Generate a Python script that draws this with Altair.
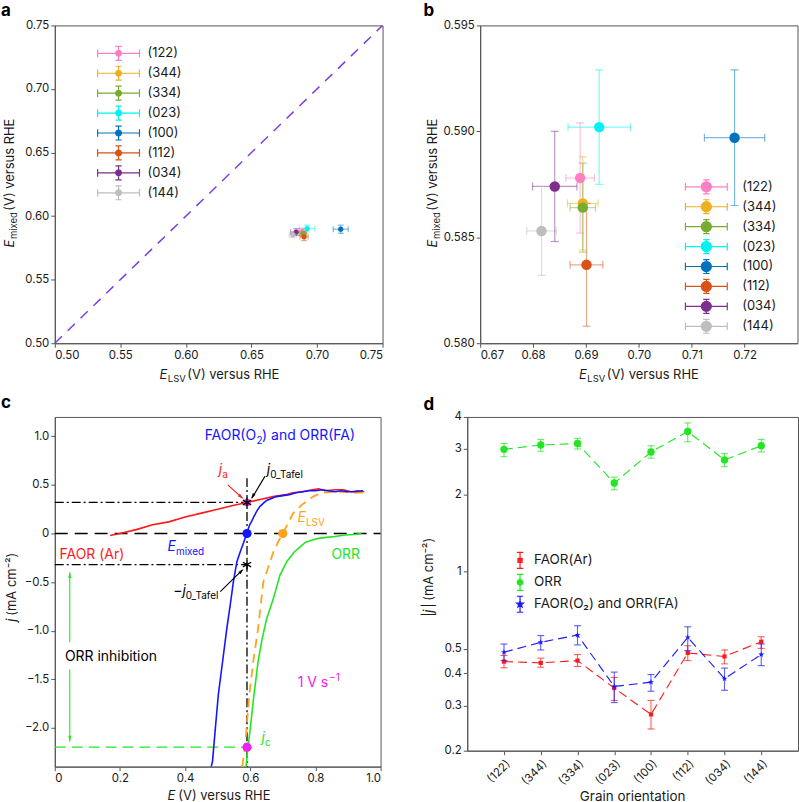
import altair as alt
import pandas as pd

FONT = "Inter"
AXC = "#555555"
INK = "#1a1a1a"

# ---------------- panels a & b : data ----------------
grains = ["(122)", "(344)", "(334)", "(023)", "(100)", "(112)", "(034)", "(144)"]
grain_colors = ["#FF7FC4", "#EDB120", "#77AC30", "#00F2F2", "#0072BD", "#D95319", "#7E2F8E", "#BEBEBE"]
e_lsv = [0.6889, 0.6894, 0.6894, 0.6925, 0.7181, 0.6901, 0.6841, 0.6816]
e_lsv_err = [0.0027, 0.0029, 0.0024, 0.0059, 0.0057, 0.0031, 0.0042, 0.0028]
e_mixed = [0.5878, 0.5866, 0.5864, 0.5902, 0.5897, 0.5837, 0.5874, 0.5853]
e_mixed_err = [0.0026, 0.0022, 0.0021, 0.0027, 0.0032, 0.0029, 0.0026, 0.0021]
diag = [0.50, 0.75]

# ---------------- panel c : data ----------------
faor_ar_E = [0.17, 0.20, 0.25, 0.30, 0.35, 0.40, 0.45, 0.50, 0.55, 0.59, 0.63, 0.67, 0.71, 0.73,
             0.76, 0.79, 0.81, 0.83, 0.86, 0.885, 0.91, 0.93, 0.95]
faor_ar_j = [-0.02, 0.00, 0.04, 0.09, 0.12, 0.17, 0.21, 0.25, 0.29, 0.32, 0.35, 0.38, 0.40, 0.42,
             0.43, 0.45, 0.46, 0.44, 0.45, 0.45, 0.43, 0.44, 0.43]
mixed_E = [0.480, 0.484, 0.493, 0.502, 0.515, 0.528, 0.540, 0.548, 0.559, 0.569, 0.580, 0.589,
           0.597, 0.605, 0.612, 0.620, 0.630, 0.640, 0.650, 0.665, 0.680, 0.700, 0.720, 0.740,
           0.760, 0.780, 0.800, 0.820, 0.840, 0.860, 0.880, 0.900, 0.920, 0.946]
mixed_j = [-2.40, -2.35, -2.00, -1.66, -1.32, -0.98, -0.70, -0.50, -0.29, -0.19, -0.09, 0.00,
           0.08, 0.13, 0.18, 0.23, 0.28, 0.31, 0.34, 0.36, 0.38, 0.39, 0.40, 0.42,
           0.43, 0.44, 0.44, 0.45, 0.44, 0.43, 0.44, 0.43, 0.43, 0.44]
lsv_E = [0.575, 0.584, 0.597, 0.610, 0.624, 0.640, 0.655, 0.671, 0.685, 0.700, 0.715, 0.732,
         0.760, 0.793, 0.820, 0.850, 0.880, 0.910, 0.950]
lsv_j = [-2.40, -2.20, -1.66, -1.30, -0.98, -0.50, -0.35, -0.19, -0.09, 0.00, 0.10, 0.21,
         0.30, 0.38, 0.42, 0.43, 0.43, 0.42, 0.42]
orr_E = [0.587, 0.593, 0.600, 0.610, 0.624, 0.635, 0.650, 0.671, 0.691, 0.712, 0.735, 0.752,
         0.770, 0.793, 0.810, 0.834, 0.860, 0.890, 0.920, 0.941]
orr_j = [-2.40, -2.20, -2.01, -1.70, -1.32, -1.11, -0.88, -0.67, -0.43, -0.29, -0.19, -0.14,
         -0.09, -0.065, -0.05, -0.04, -0.03, -0.015, -0.01, 0.00]
ja_level = 0.32
e_mixed_c = 0.59
e_lsv_c = 0.70
jc_level = -2.2
vline_top = 0.57
inhib_x = 0.046
inhib_top = -0.40
inhib_gap = [-1.12, -1.40]
inhib_bottom = -2.14

# ---------------- panel d : data ----------------
series_names = ["FAOR(Ar)", "ORR", "FAOR(O\u2082) and ORR(FA)"]
series_colors = ["#FF1A1A", "#22E622", "#1A1AFF"]
faor_ar_d = [0.445, 0.440, 0.449, 0.351, 0.277, 0.481, 0.466, 0.532]
faor_ar_lo = [0.421, 0.423, 0.426, 0.314, 0.243, 0.449, 0.436, 0.501]
faor_ar_hi = [0.470, 0.459, 0.474, 0.386, 0.314, 0.513, 0.494, 0.556]
orr_d = [2.99, 3.11, 3.15, 2.21, 2.92, 3.51, 2.72, 3.09]
orr_lo = [2.80, 2.94, 3.00, 2.08, 2.76, 3.20, 2.56, 2.92]
orr_hi = [3.15, 3.27, 3.30, 2.33, 3.09, 3.79, 2.88, 3.27]
mix_d = [0.484, 0.529, 0.565, 0.356, 0.370, 0.553, 0.382, 0.474]
mix_lo = [0.449, 0.494, 0.517, 0.308, 0.341, 0.491, 0.344, 0.429]
mix_hi = [0.521, 0.562, 0.614, 0.405, 0.396, 0.608, 0.420, 0.521]


# ---------------- helpers ----------------
def rings(radii):
    return "".join(f"M{r},0A{r},{r} 0 1,1 {-r},0A{r},{r} 0 1,1 {r},0" for r in radii)


def axis(values, expr=None, fmt=None, **kw):
    a = dict(values=values, title=None, grid=False, tickSize=4, tickWidth=1, tickColor=AXC,
             domainColor=AXC, domainWidth=1, labelFont=FONT, labelFontSize=11.5,
             labelColor=INK, labelPadding=2)
    if expr:
        a["labelExpr"] = expr
    if fmt:
        a["format"] = fmt
    a.update(kw)
    return alt.Axis(**a)


def vtext(text, x, y, size=13, color=INK, italic=False, bold=False, align="left",
          baseline="alphabetic", angle=None, dx=None, dy=None):
    p = dict(font=FONT, fontSize=size, color=color, align=align, baseline=baseline)
    if italic:
        p["fontStyle"] = "italic"
    if bold:
        p["fontWeight"] = "bold"
    if angle:
        p["angle"] = angle
    if dx:
        p["dx"] = dx
    if dy:
        p["dy"] = dy
    return alt.Chart(pd.DataFrame({"t": [text]})).mark_text(**p).encode(
        x=alt.value(x), y=alt.value(y), text="t:N")


def layout_box(x1, x2, y1, y2):
    # invisible box that fixes the panel's outer bounds for the concat layout
    return alt.Chart(pd.DataFrame({"k": [0]})).mark_rect(
        opacity=0, fillOpacity=0, strokeOpacity=0).encode(
        x=alt.value(x1), x2=alt.value(x2), y=alt.value(y1), y2=alt.value(y2))


def x_title(main, sub, rest, jx, y, sub_w, main_italic=True):
    out = [vtext(main, jx, y, italic=main_italic, align="right")]
    if sub:
        out.append(vtext(sub, jx + 0.5, y + 3, size=9.5, align="left"))
    out.append(vtext(rest, jx + sub_w, y, align="left"))
    return out


def y_title(main, sub, rest, x, yc, jdx, sub_w):
    out = [vtext(main, x, yc, italic=True, align="right", angle=270, dx=jdx)]
    if sub:
        out.append(vtext(sub, x, yc, size=9.5, align="left", angle=270, dx=jdx + 0.5, dy=3))
    out.append(vtext(rest, x, yc, align="left", angle=270, dx=jdx + sub_w))
    return out


# ---------------- panels a & b ----------------
ab_df = pd.DataFrame({
    "grain": grains,
    "x": e_lsv, "y": e_mixed,
    "xlo": [v - e for v, e in zip(e_lsv, e_lsv_err)],
    "xhi": [v + e for v, e in zip(e_lsv, e_lsv_err)],
    "ylo": [v - e for v, e in zip(e_mixed, e_mixed_err)],
    "yhi": [v + e for v, e in zip(e_mixed, e_mixed_err)],
})

BAR = "M-3,0H3M-3,-0.55V0.55M3,-0.55V0.55M0,-1V1M-0.45,-1H0.45M-0.45,1H0.45"
GLYPH_A = BAR + rings([0.12, 0.27, 0.42])
GLYPH_B = BAR + rings([0.12, 0.27, 0.42, 0.57, 0.72])


def scatter_panel(w, h, xdom, ydom, xvals, yvals, fx, fy, psize, cap, glyph,
                  legx, legy, laboff, extra, decor):
    xs = alt.Scale(domain=xdom, nice=False, zero=False)
    ys = alt.Scale(domain=ydom, nice=False, zero=False)
    xa = axis(xvals, fmt=fx)
    ya = axis(yvals, fmt=fy)

    def X(f):
        return alt.X(f, type="quantitative", scale=xs, axis=xa)

    def Y(f):
        return alt.Y(f, type="quantitative", scale=ys, axis=ya)

    cs = alt.Scale(domain=grains, range=grain_colors)
    nocol = alt.Color("grain:N", scale=cs, legend=None)
    leg = alt.Legend(orient="none", legendX=legx, legendY=legy, title=None, padding=0,
                     labelFont=FONT, labelFontSize=13, labelColor=INK, symbolType=glyph,
                     symbolSize=196, symbolStrokeWidth=1.2, symbolOpacity=1,
                     labelOffset=laboff, rowPadding=0)
    base = alt.Chart(ab_df)
    layers = [base.mark_point(opacity=0, filled=False, shape=glyph, strokeWidth=1.2).encode(
        x=X("x"), y=Y("y"), color=alt.Color("grain:N", scale=cs, legend=leg))]
    layers += [e(X, Y) for e in extra]
    eb = dict(opacity=0.5, strokeWidth=1.2)
    layers += [
        base.mark_rule(**eb).encode(x=X("xlo"), x2="xhi", y=Y("y"), color=nocol),
        base.mark_rule(**eb).encode(x=X("x"), y=Y("ylo"), y2="yhi", color=nocol),
        base.mark_tick(orient="vertical", size=cap, thickness=1.2, opacity=0.5).encode(
            x=X("xlo"), y=Y("y"), color=nocol),
        base.mark_tick(orient="vertical", size=cap, thickness=1.2, opacity=0.5).encode(
            x=X("xhi"), y=Y("y"), color=nocol),
        base.mark_tick(orient="horizontal", size=cap, thickness=1.2, opacity=0.5).encode(
            x=X("x"), y=Y("ylo"), color=nocol),
        base.mark_tick(orient="horizontal", size=cap, thickness=1.2, opacity=0.5).encode(
            x=X("x"), y=Y("yhi"), color=nocol),
        base.mark_circle(size=psize, opacity=1).encode(x=X("x"), y=Y("y"), color=nocol),
    ]
    layers += decor
    return alt.layer(*layers).properties(width=w, height=h)


def diag_line(X, Y):
    return alt.Chart(pd.DataFrame({"v": diag})).mark_line(
        color="#7B3FE4", strokeDash=[10, 8], strokeWidth=1.5).encode(x=X("v"), y=Y("v"))


WA, HA = 329, 319
pa = scatter_panel(
    WA, HA, [0.5, 0.75], [0.5, 0.75], [0.5, 0.55, 0.6, 0.65, 0.7, 0.75],
    [0.5, 0.55, 0.6, 0.65, 0.7, 0.75], ".2f", ".2f", 28, 6, GLYPH_A, 56, 20, 21,
    [diag_line],
    [vtext("a", -54, -9, size=17, bold=True, color="#000")]
    + x_title("E", "LSV", "(V) versus RHE", 113, HA + 35.7, 20)
    + y_title("E", "mixed", "(V) versus RHE", -41, HA / 2, -55.5, 29)
    + [layout_box(-54, WA + 15, -23, HA + 43)])

WB, HB = 318.5, 319
pb = scatter_panel(
    WB, HB, [0.67, 0.73], [0.58, 0.595], [0.67, 0.68, 0.69, 0.70, 0.71, 0.72],
    [0.58, 0.585, 0.59, 0.595], ".2f", ".3f", 110, 8, GLYPH_B, 219, 154, 28,
    [],
    [vtext("b", -57, -9, size=17, bold=True, color="#000")]
    + x_title("E", "LSV", "(V) versus RHE", 107, HB + 35.7, 20)
    + y_title("E", "mixed", "(V) versus RHE", -43, HB / 2, -55.5, 29)
    + [layout_box(-60, WB + 0.5, -23, HB + 43)])

# ---------------- panel c ----------------
WC, HC = 327, 351
cxs = alt.Scale(domain=[0, 1], nice=False, zero=False)
cys = alt.Scale(domain=[-2.4, 1.2], nice=False, zero=False)
cxa = axis([0, 0.2, 0.4, 0.6, 0.8, 1.0],
           expr="datum.value == 0 ? '0' : format(datum.value, '.1f')")
cya = axis([-2.0, -1.5, -1.0, -0.5, 0, 0.5, 1.0],
           expr="datum.value == 0 ? '0' : replace(format(datum.value, '.1f'), '-', '\u2212')")


def CX(f):
    return alt.X(f, type="quantitative", scale=cxs, axis=cxa)


def CY(f):
    return alt.Y(f, type="quantitative", scale=cys, axis=cya)


def cline(E, j, color, dash=None, width=1.6):
    p = dict(color=color, strokeWidth=width, clip=True)
    if dash:
        p["strokeDash"] = dash
    return alt.Chart(pd.DataFrame({"E": E, "j": j})).mark_line(**p).encode(
        x=CX("E"), y=CY("j"))


def cseg(x1, x2, y1, y2, color, dash=None, width=1.3):
    p = dict(color=color, strokeWidth=width)
    if dash:
        p["strokeDash"] = dash
    return alt.Chart(pd.DataFrame({"a": [x1], "b": [x2], "c": [y1], "d": [y2]})).mark_rule(
        **p).encode(x=CX("a"), x2="b", y=CY("c"), y2="d")


def cpt(x, y, color, size, shape="circle", filled=True, sw=None, angle=None):
    p = dict(color=color, size=size, shape=shape, filled=filled, opacity=1)
    if sw:
        p["strokeWidth"] = sw
    if angle:
        p["angle"] = angle
    return alt.Chart(pd.DataFrame({"x": [x], "y": [y]})).mark_point(**p).encode(
        x=CX("x"), y=CY("y"))


def ctext(x, y, text, color, size=14, italic=False, align="left", dx=None, dy=None):
    p = dict(font=FONT, fontSize=size, color=color, align=align, baseline="middle")
    if italic:
        p["fontStyle"] = "italic"
    if dx:
        p["dx"] = dx
    if dy:
        p["dy"] = dy
    return alt.Chart(pd.DataFrame({"x": [x], "y": [y], "t": [text]})).mark_text(**p).encode(
        x=CX("x"), y=CY("y"), text="t:N")


ASTER = "M0,-1V1M-0.87,-0.5L0.87,0.5M-0.87,0.5L0.87,-0.5"
ARROW = "M0,0L0.45,1.6L-0.45,1.6Z"
RED, BLUE, GREEN, ORANGE, MAG = "#FF1A1A", "#1414FF", "#22E622", "#FFA31A", "#F020F0"
DASHDOT = [9, 3, 2, 3]

c_layers = [
    cseg(0, e_mixed_c, ja_level, ja_level, "#000", DASHDOT),
    cseg(0, e_mixed_c, -ja_level, -ja_level, "#000", DASHDOT),
    cseg(0, 1, 0, 0, "#000", [13, 7], 1.5),
    cseg(0, e_mixed_c, jc_level, jc_level, GREEN, [11, 6], 1.3),
    cseg(e_mixed_c, e_mixed_c, vline_top, -2.4, "#000", DASHDOT),
    cline(faor_ar_E, faor_ar_j, RED),
    cline(orr_E, orr_j, GREEN),
    cline(lsv_E, lsv_j, ORANGE, [9, 6], 1.8),
    cline(mixed_E, mixed_j, BLUE),
    # ORR inhibition double arrow
    cseg(inhib_x, inhib_x, inhib_top, inhib_gap[0], GREEN, None, 1.1),
    cseg(inhib_x, inhib_x, inhib_gap[1], inhib_bottom, GREEN, None, 1.1),
    cpt(inhib_x, inhib_top, GREEN, 50, ARROW, True),
    cpt(inhib_x, inhib_bottom, GREEN, 50, ARROW, True, angle=180),
    # pointer arrows
    cseg(0.531, 0.576, 0.50, 0.364, RED, None, 1.1),
    cpt(0.578, 0.358, RED, 50, ARROW, True, angle=132),
    cseg(0.645, 0.605, 0.588, 0.364, "#000", None, 1.1),
    cpt(0.603, 0.358, "#000", 50, ARROW, True, angle=211),
    cseg(0.508, 0.576, -0.598, -0.375, "#000", None, 1.1),
    cpt(0.579, -0.367, "#000", 50, ARROW, True, angle=46),
    # markers
    cpt(e_mixed_c, ja_level, MAG, 55),
    cpt(e_mixed_c, ja_level, "#000", 90, ASTER, False, 1.4),
    cpt(e_mixed_c, 0, BLUE, 85),
    cpt(e_lsv_c, 0, ORANGE, 85),
    cpt(e_mixed_c, -ja_level, "#000", 90, ASTER, False, 1.4),
    cpt(e_mixed_c, jc_level, MAG, 85),
    # annotations
    ctext(0.618, 1.0, "FAOR(O", BLUE, align="right"),
    ctext(0.618, 1.0, "2", BLUE, size=10, dx=0.5, dy=5),
    ctext(0.618, 1.0, ") and ORR(FA)", BLUE, dx=6),
    ctext(0.514, 0.656, "j", RED, italic=True, align="right"),
    ctext(0.514, 0.656, "a", RED, size=10, dy=5),
    ctext(0.661, 0.656, "j", "#000", italic=True, align="right"),
    ctext(0.661, 0.656, "0_Tafel", "#000", size=10, dy=5),
    ctext(0.771, 0.158, "E", ORANGE, italic=True, align="right"),
    ctext(0.771, 0.158, "LSV", ORANGE, size=10, dy=5),
    ctext(0.372, -0.141, "E", BLUE, italic=True, align="right"),
    ctext(0.372, -0.141, "mixed", BLUE, size=10, dy=5),
    ctext(0.114, -0.22, "FAOR (Ar)", RED, align="center"),
    ctext(0.893, -0.22, "ORR", GREEN, align="center"),
    ctext(0.402, -0.59, "\u2212j", "#000", italic=True, align="right"),
    ctext(0.402, -0.59, "0_Tafel", "#000", size=10, dy=5),
    ctext(0.031, -1.27, "ORR inhibition", "#000"),
    ctext(0.839, -1.543, "1 V s", MAG, align="right"),
    ctext(0.839, -1.543, "\u22121", MAG, size=10, dx=1, dy=-5),
    ctext(0.645, -2.11, "j", GREEN, italic=True, align="right"),
    ctext(0.645, -2.11, "c", GREEN, size=10, dy=5),
    vtext("c", -54, -9, size=17, bold=True, color="#000"),
] + x_title("E", None, "(V) versus RHE", 121, HC + 33, 3) \
  + [vtext("j", -39, HC / 2, italic=True, align="right", angle=270, dx=-27),
     vtext("(mA cm\u207b\u00b2)", -39, HC / 2, align="left", angle=270, dx=-24),
     layout_box(-54, WC + 15, -24, HC + 36)]

pc = alt.layer(*c_layers).properties(width=WC, height=HC)

# ---------------- panel d ----------------
WD, HD = 332, 335
d_df = pd.DataFrame({
    "series": [series_names[0]] * 8 + [series_names[1]] * 8 + [series_names[2]] * 8,
    "grain": grains * 3,
    "val": faor_ar_d + orr_d + mix_d,
    "lo": faor_ar_lo + orr_lo + mix_lo,
    "hi": faor_ar_hi + orr_hi + mix_hi,
})
dxs = alt.Scale(domain=grains, type="point", padding=1)
dys = alt.Scale(type="log", domain=[0.2, 4], nice=False)
dxa = alt.Axis(title=None, grid=False, tickSize=4, tickColor=AXC, domainColor=AXC,
               labelFont=FONT, labelFontSize=11.5, labelColor=INK, labelAngle=-45,
               labelPadding=3)
dya = axis([0.2, 0.3, 0.4, 0.5, 1, 2, 3, 4],
           expr="datum.value >= 1 ? format(datum.value, 'd') : format(datum.value, '.1f')")


def DX(f):
    return alt.X(f, type="nominal", scale=dxs, axis=dxa, sort=grains)


def DY(f):
    return alt.Y(f, type="quantitative", scale=dys, axis=dya)


STAR = "M0,-1L0.24,-0.31L0.95,-0.31L0.38,0.12L0.59,0.81L0,0.38L-0.59,0.81L-0.38,0.12L-0.95,-0.31L-0.24,-0.31Z"
VBAR = "M0,-1.15V1.15M-0.45,-1.15H0.45M-0.45,1.15H0.45"
d_glyphs = [VBAR + "M-0.3,-0.3H0.3V0.3H-0.3ZM-0.12,-0.12H0.12V0.12H-0.12Z",
            VBAR + rings([0.1, 0.25, 0.4]),
            VBAR + "M0,-0.5L0.12,-0.16L0.48,-0.16L0.19,0.06L0.3,0.4L0,0.19L-0.3,0.4L-0.19,0.06L-0.48,-0.16L-0.12,-0.16Z" + rings([0.12])]
dleg = alt.Legend(orient="none", legendX=45, legendY=136, title=None, padding=0,
                  labelFont=FONT, labelFontSize=13.5, labelColor=INK, symbolSize=196,
                  symbolStrokeWidth=1.2, symbolOpacity=1, labelOffset=6, rowPadding=0)
d_layers = [alt.Chart(d_df).mark_point(opacity=0, filled=False, strokeWidth=1.2).encode(
    x=DX("grain"), y=DY("val"),
    color=alt.Color("series:N", scale=alt.Scale(domain=series_names, range=series_colors),
                    legend=dleg, sort=series_names),
    shape=alt.Shape("series:N", scale=alt.Scale(domain=series_names, range=d_glyphs),
                    legend=dleg, sort=series_names))]
marker_specs = [("square", 18), ("circle", 55), (STAR, 40)]
for name, col, (shp, sz) in zip(series_names, series_colors, marker_specs):
    sub = d_df[d_df["series"] == name]
    b = alt.Chart(sub)
    d_layers += [
        b.mark_line(color=col, strokeDash=[9, 5], strokeWidth=1.1).encode(
            x=DX("grain"), y=DY("val")),
        b.mark_rule(color=col, opacity=0.7, strokeWidth=1.1).encode(
            x=DX("grain"), y=DY("lo"), y2="hi"),
        b.mark_tick(color=col, orient="horizontal", size=7, thickness=1.1, opacity=0.7).encode(
            x=DX("grain"), y=DY("lo")),
        b.mark_tick(color=col, orient="horizontal", size=7, thickness=1.1, opacity=0.7).encode(
            x=DX("grain"), y=DY("hi")),
        b.mark_point(color=col, shape=shp, size=sz, filled=True, opacity=1).encode(
            x=DX("grain"), y=DY("val")),
    ]
d_layers += [
    vtext("d", -44, -7, size=17, bold=True, color="#000"),
    vtext("Grain orientation", WD / 2, HD + 50, size=13.5, align="center"),
    vtext("|", -34, HD / 2, align="left", angle=270, dx=-33),
    vtext("j", -34, HD / 2, italic=True, align="left", angle=270, dx=-29),
    vtext("|", -34, HD / 2, align="left", angle=270, dx=-24),
    vtext("(mA cm\u207b\u00b2)", -34, HD / 2, align="left", angle=270, dx=-17),
    layout_box(-47, WD + 0.5, -23, HD + 53),
]
pd_ = alt.layer(*d_layers).properties(width=WD, height=HD)

IND = dict(color="independent", shape="independent")
row1 = alt.hconcat(pa, pb, spacing=21).resolve_scale(**IND).resolve_legend(**IND)
row2 = alt.hconcat(pc, pd_, spacing=23).resolve_scale(**IND).resolve_legend(**IND)
chart = alt.vconcat(row1, row2, spacing=5).resolve_scale(**IND).resolve_legend(**IND).properties(
    padding={"left": 0, "top": 0, "right": 0, "bottom": 0}
).configure_view(stroke=AXC, strokeWidth=1)

chart.save("out.html", embed_options={"renderer": "svg", "actions": False})
